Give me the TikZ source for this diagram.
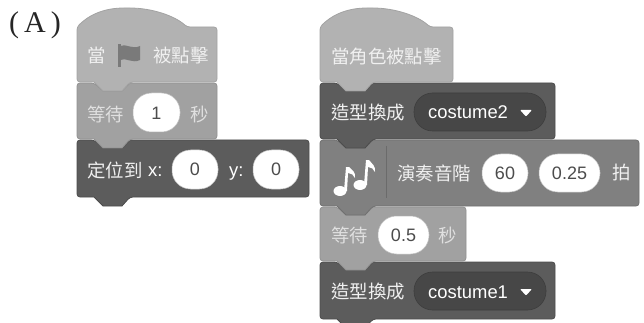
\documentclass[tikz,border=0pt]{standalone}
\usepackage{fontspec}
\setmainfont{Liberation Sans}
\newfontfamily\cjk{Noto Sans CJK TC}
\newfontfamily\serifA{Liberation Serif}
\tikzset{
  x=1pt,y=-1pt,
  blk/.style={line width=0.8pt,rounded corners=3pt},
  lightb/.style={blk,fill=black!30,draw=black!36},
  midb/.style={blk,fill=black!37,draw=black!43},
  soundb/.style={blk,fill=black!50,draw=black!56},
  darkb/.style={blk,fill=black!64,draw=black!70},
  pillw/.style={rounded corners=18.5pt,fill=white,draw=black!25,line width=0.5pt},
  pilld/.style={rounded corners=18.5pt,fill=black!72,draw=black!76,line width=0.6pt},
  zh/.style={inner sep=0pt,anchor=west,text=black!6,font=\cjk\fontsize{18.4}{19}\selectfont},
  zhm/.style={zh,text=black!12},
  la/.style={inner sep=0pt,text=black!70,font=\fontsize{18}{18}\selectfont},
  lw/.style={inner sep=0pt,anchor=base west,text=white,font=\fontsize{18.4}{19}\selectfont},
}
% x1,y1,x2,y2: a stack block with its bottom tab
\newcommand{\stackblk}[5]{%
  \path[#5] (#1,#2) -- (#1+17,#2) [sharp corners] -- (#1+26,#2+8) -- (#1+45,#2+8) -- (#1+53,#2)
    [rounded corners=3pt] -- (#3,#2) -- (#3,#4) -- (#1+53,#4) [sharp corners] -- (#1+45,#4+9) -- (#1+26,#4+9) -- (#1+17,#4)
    [rounded corners=3pt] -- (#1,#4) -- cycle;}
\newcommand{\hatblk}[5]{%
  \path[#5] (#1,#2+19) .. controls (#1+14,#2+5) and (#1+30,#2) .. (#1+50,#2)
    .. controls (#1+75,#2) and (#1+98,#2+8) .. (#1+110,#2+19)
    [rounded corners=3pt] -- (#3,#2+19) -- (#3,#4) -- (#1+53,#4) [sharp corners] -- (#1+45,#4+9) -- (#1+26,#4+9) -- (#1+17,#4)
    [rounded corners=3pt] -- (#1,#4) -- cycle;}
\begin{document}
\begin{tikzpicture}
\useasboundingbox (0,0) rectangle (644,323);
\node[inner sep=0pt,anchor=west,text=black!85,font=\serifA\fontsize{30}{30}\selectfont] (lab) at (9,25) {(\hspace{5pt}A\hspace{5pt})};

% left stack
\stackblk{77}{140}{309}{197}{darkb}
\stackblk{77}{83}{217}{139}{midb}
\hatblk{77}{8}{217}{82}{lightb}
\node[zh] (l1a) at (87,56) {當};
\fill[black!52] (118,44) rectangle (120.5,67);
\fill[black!52] (120,46) .. controls (126,43) and (132,50) .. (140,46) -- (140,60) .. controls (132,64) and (126,57) .. (120,60) -- cycle;
\node[zh] (l1b) at (153,56) {被點擊};
\node[zhm] (l2a) at (87,114) {等待};
\path[pillw] (133,93) rectangle (180,132);
\node[la] (l2v) at (156.5,113) {1};
\node[zhm] (l2b) at (190,114) {秒};
\node[zh] (l3a) at (87,170) {定位到};
\node[lw] (l3x) at (148,176) {x:};
\path[pillw] (172,150) rectangle (218,189);
\node[la] (l3v1) at (195,169) {0};
\node[lw] (l3y) at (229,176) {y:};
\path[pillw] (253,150) rectangle (299,189);
\node[la] (l3v2) at (276,169) {0};

% right stack
\stackblk{320}{262}{555}{319}{darkb}
\stackblk{320}{207}{466}{261}{midb}
\stackblk{320}{140}{639}{206}{soundb}
\stackblk{320}{83}{555}{139}{darkb}
\hatblk{320}{8}{453}{82}{lightb}
\node[zh] (r1) at (331,57) {當角色被點擊};
\node[zh] (r2a) at (331,113) {造型換成};
\path[pilld] (414,93) rectangle (546,131);
\node[lw] (r2b) at (428,119) {costume2};
\fill[white,rounded corners=1pt] (520,110) -- (532,110) -- (526,116.5) -- cycle;

% notes icon
\draw[black!58,line width=0.8pt] (386.5,146) -- (386.5,198);
\fill[white] (340,191) ellipse (6.5 and 5);
\fill[white] (360,185) ellipse (6.5 and 5);
\fill[white] (344,191) -- (347,191) -- (348,173) .. controls (351,173) and (354,175) .. (355,178) .. controls (356,172) and (352,170) .. (349,167) -- (346,167) -- cycle;
\fill[white] (364,185) -- (367,185) -- (368,167) .. controls (371,167) and (374,169) .. (375,172) .. controls (376,166) and (372,164) .. (369,160) -- (366,160) -- cycle;
\node[zh] (r3a) at (397,173) {演奏音階};
\path[pillw] (482,154) rectangle (528,192);
\node[la] (r3v1) at (505,173) {60};
\path[pillw] (539,154) rectangle (600,192);
\node[la] (r3v2) at (569.5,173) {0.25};
\node[zh] (r3b) at (612,173) {拍};

\node[zhm] (r4a) at (331,235) {等待};
\path[pillw] (378,216) rectangle (429,254);
\node[la] (r4v) at (403.5,235) {0.5};
\node[zhm] (r4b) at (438,235) {秒};

\node[zh] (r5a) at (331,292) {造型換成};
\path[pilld] (414,272) rectangle (546,310);
\node[lw] (r5b) at (428,298) {costume1};
\fill[white,rounded corners=1pt] (520,289) -- (532,289) -- (526,295.5) -- cycle;
\end{tikzpicture}
\end{document}
